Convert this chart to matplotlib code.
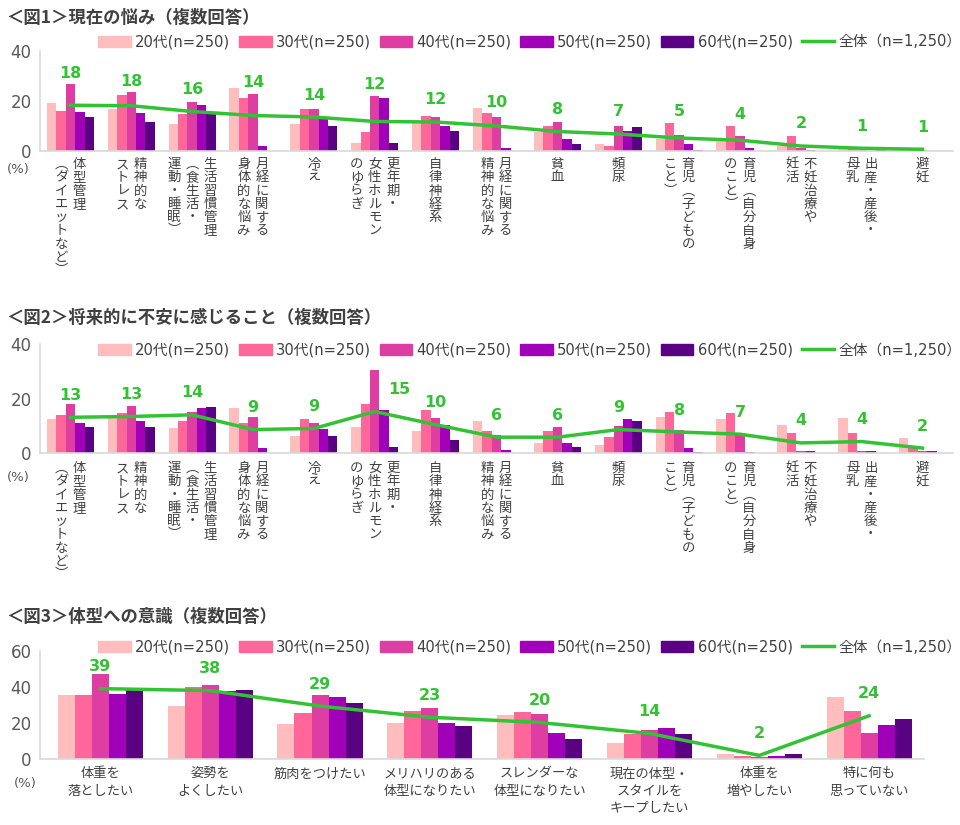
import matplotlib.pyplot as plt
from matplotlib.patches import Patch
from matplotlib.lines import Line2D
import numpy as np

plt.rcParams['font.family'] = ['DejaVu Sans', 'Noto Sans CJK JP']

ages = ['20代(n=250)', '30代(n=250)', '40代(n=250)', '50代(n=250)', '60代(n=250)']
total_name = '全体（n=1,250）'
colors = ['#FFBDBD', '#FF6699', '#DE3EA2', '#A000B8', '#5A0082']
green = '#33C233'
text_col = '#404040'
tick_col = '#595959'

# categories for fig 1 and 2 (columns of vertical text, first = rightmost)
worry_cats = ['体型管理\n（ダイエットなど）', '精神的な\nストレス', '生活習慣管理\n（食生活・\n運動・睡眠）',
              '月経に関する\n身体的な悩み', '冷え', '更年期・\n女性ホルモン\nのゆらぎ', '自律神経系',
              '月経に関する\n精神的な悩み', '貧血', '頻尿', '育児（子どもの\nこと）', '育児（自分自身\nのこと）',
              '不妊治療や\n妊活', '出産・産後・\n母乳', '避妊']

# 図1 現在の悩み
now_20 = [19.1, 16.9, 10.9, 25.1, 10.7, 3.3, 11.5, 17.1, 7.7, 2.7, 4.7, 3.9, 2.0, 1.7, 0.8]
now_30 = [16.1, 22.3, 14.9, 21.1, 16.7, 7.5, 14.1, 15.1, 10.1, 2.0, 11.3, 10.1, 5.9, 1.7, 0.8]
now_40 = [26.7, 23.5, 19.5, 22.9, 16.7, 22.1, 13.5, 13.7, 11.7, 10.1, 6.5, 5.9, 1.3, 0.4, 0.4]
now_50 = [15.7, 15.3, 18.5, 2.1, 12.7, 21.1, 10.1, 1.3, 4.7, 8.1, 2.9, 1.3, 0.4, 0.0, 0.0]
now_60 = [13.5, 11.7, 15.2, 0.0, 9.9, 3.1, 7.9, 0.0, 2.7, 9.5, 0.4, 0.0, 0.0, 0.8, 0.0]
now_all = [18.3, 18.1, 15.8, 14.2, 13.6, 11.8, 11.6, 10.0, 7.8, 6.8, 5.2, 4.3, 2.0, 1.1, 0.7]

# 図2 将来的に不安に感じること
fut_20 = [12.3, 12.9, 9.1, 16.4, 6.3, 9.6, 7.9, 11.7, 3.8, 2.9, 13.1, 12.3, 10.3, 12.8, 5.5]
fut_30 = [13.9, 14.7, 11.9, 11.0, 12.3, 17.9, 15.6, 7.9, 8.2, 5.9, 15.1, 14.7, 7.5, 7.5, 2.5]
fut_40 = [17.9, 17.4, 15.1, 13.1, 11.0, 30.6, 12.8, 6.6, 9.4, 9.8, 8.6, 6.7, 0.6, 0.6, 0.6]
fut_50 = [11.0, 11.9, 16.4, 1.8, 8.7, 15.6, 10.3, 1.0, 3.8, 12.4, 1.8, 0.4, 0.6, 0.6, 0.6]
fut_60 = [9.6, 9.6, 16.8, 0.0, 6.3, 2.2, 4.7, 0.0, 2.2, 11.9, 0.4, 0.0, 0.0, 0.0, 0.0]
fut_all = [13.1, 13.4, 14.0, 8.6, 9.0, 15.2, 10.4, 5.8, 5.8, 8.6, 7.7, 6.9, 3.7, 4.2, 1.8]

# 図3 体型への意識
body_cats = ['体重を\n落としたい', '姿勢を\nよくしたい', '筋肉をつけたい', 'メリハリのある\n体型になりたい',
             'スレンダーな\n体型になりたい', '現在の体型・\nスタイルを\nキープしたい', '体重を\n増やしたい',
             '特に何も\n思っていない']
body_20 = [35.8, 29.7, 19.2, 20.1, 24.2, 8.7, 3.0, 34.5]
body_30 = [35.8, 39.9, 25.3, 26.6, 26.2, 14.0, 1.8, 26.9]
body_40 = [47.4, 41.3, 35.8, 28.4, 24.9, 15.9, 1.1, 14.6]
body_50 = [36.2, 38.0, 34.3, 20.1, 14.6, 17.3, 1.7, 18.8]
body_60 = [39.3, 38.4, 31.0, 18.1, 10.9, 14.0, 2.6, 22.3]
body_all = [39.1, 38.0, 29.4, 23.2, 20.3, 14.2, 2.0, 24.0]

W, H = 960, 825
fig = plt.figure(figsize=(9.6, 8.25), dpi=100)

# vertical forms for brackets in 縦書き labels
vert = {'（': '\ufe35', '）': '\ufe36'}


def vertical_labels(ax, labels, gap):
    for i, lab in enumerate(labels):
        cols = lab.split('\n')
        n = len(cols)
        for j, col in enumerate(cols):
            dx = ((n - 1) / 2 - j) * 18
            for k, ch in enumerate(col):
                ax.annotate(vert.get(ch, ch), xy=(i, 0), xycoords=('data', 'axes fraction'),
                            xytext=(dx, -gap - k * 13.3), textcoords='offset pixels',
                            ha='center', va='top', fontsize=9.6, family=['Noto Sans CJK JP'],
                            color=text_col)


def draw(top, bottom, right, groups, total, ymax, xlim, title, title_y, legend_y, pct_xy,
         clear_bars, nudge={}):
    ax = fig.add_axes([40 / W, 1 - bottom / H, (right - 40) / W, (bottom - top) / H])
    x = np.arange(len(total))
    w = 0.155
    for k, vals in enumerate(groups):
        ax.bar(x + (k - 2) * w, vals, w, color=colors[k], zorder=2)
    ax.plot(x, total, color=green, lw=2.5, zorder=3)
    ax.set_ylim(0, ymax)
    ax.set_xlim(*xlim)
    ax.set_yticks(np.arange(0, ymax + 1, 20))
    ax.tick_params(length=0, labelsize=12, labelcolor=tick_col, pad=6)
    for s in ['top', 'right']:
        ax.spines[s].set_visible(False)
    for s in ['left', 'bottom']:
        ax.spines[s].set_color('#D9D9D9')
        ax.spines[s].set_linewidth(1.2)
    ppu = (bottom - top) / ymax
    for i, v in enumerate(total):
        y_px = v * ppu + 22
        if clear_bars:
            y_px = max(y_px, max(g[i] for g in groups[1:4]) * ppu + 11)
        ax.annotate(f'{v:.0f}', xy=(i, y_px / ppu), xytext=(nudge.get(i, 0), 0),
                    textcoords='offset pixels', ha='center', va='center', color=green,
                    fontsize=11.5, fontweight='bold', zorder=4)
    fig.text(6 / W, 1 - title_y / H, title, ha='left', va='center', fontsize=12.5,
             fontweight='bold', color=text_col, family=['Noto Sans CJK JP'])
    handles = [Patch(color=c) for c in colors] + [Line2D([], [], color=green, lw=2.5)]
    fig.legend(handles, ages + [total_name], loc='center right',
               bbox_to_anchor=(969 / W, 1 - legend_y / H), ncol=6, frameon=False,
               fontsize=10.6, handlelength=2.2, handleheight=0.7, handletextpad=0.3,
               columnspacing=0.6, borderpad=0, labelcolor=text_col)
    fig.text(pct_xy[0] / W, 1 - pct_xy[1] / H, '(%)', ha='center', va='center',
             fontsize=9.5, color=tick_col)
    return ax


ax1 = draw(51, 151, 953, [now_20, now_30, now_40, now_50, now_60], now_all, 40, (-0.5, 14.5),
           '＜図1＞現在の悩み（複数回答）', 18, 42, (18, 170), True)
ax1.set_xticks([])
vertical_labels(ax1, worry_cats, 6)

ax2 = draw(344, 453, 953, [fut_20, fut_30, fut_40, fut_50, fut_60], fut_all, 40, (-0.5, 14.5),
           '＜図2＞将来的に不安に感じること（複数回答）', 318, 350, (18, 478), False, {5: 25})
ax2.set_xticks([])
vertical_labels(ax2, worry_cats, 8)

ax3 = draw(651, 759, 924, [body_20, body_30, body_40, body_50, body_60], body_all, 60, (-0.55, 7.5),
           '＜図3＞体型への意識（複数回答）', 617, 647, (25, 783), False)
ax3.set_xticks(np.arange(len(body_cats)))
ax3.set_xticklabels(body_cats, fontsize=9.5, color=text_col, family=['Noto Sans CJK JP'],
                    linespacing=1.45)
ax3.tick_params(axis='x', pad=6)

fig.savefig('out.png', dpi=100)
